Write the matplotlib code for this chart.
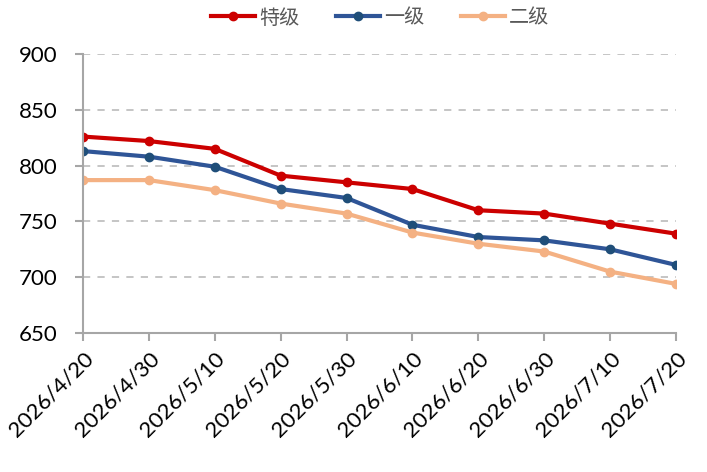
import matplotlib
matplotlib.use("Agg")
import matplotlib.pyplot as plt

dates = ['2026/4/20', '2026/4/30', '2026/5/10', '2026/5/20', '2026/5/30',
         '2026/6/10', '2026/6/20', '2026/6/30', '2026/7/10', '2026/7/20']
special = [826, 822, 815, 791, 785, 779, 760, 757, 748, 739]
grade1 = [813, 808, 799, 779, 771, 747, 736, 733, 725, 711]
grade2 = [787, 787, 778, 766, 757, 740, 730, 723, 705, 694]
names = ['特级', '一级', '二级']

plt.rcParams['font.family'] = ['Lato', 'Noto Sans CJK SC', 'DejaVu Sans']

fig = plt.figure(figsize=(7.07, 4.72), dpi=100)
ax = fig.add_axes([83 / 707, 1 - 333 / 472, (676 - 83) / 707, (333 - 54) / 472])

x = list(range(len(dates)))
ax.plot(x, special, color='#CC0000', lw=3, marker='o', ms=6, label=names[0])
ax.plot(x, grade1, color='#2F5597', lw=3, marker='o', ms=6,
        mfc='#1F4E79', mec='#1F4E79', label=names[1])
ax.plot(x, grade2, color='#F4B183', lw=3, marker='o', ms=6, label=names[2])

ax.set_xlim(0, len(dates) - 1)
ax.set_ylim(650, 900)
ax.set_yticks(range(650, 901, 50))
ax.set_xticks(x)
ax.set_xticklabels(dates, rotation=45, ha='right', rotation_mode='anchor')
ax.tick_params(axis='both', labelsize=16, color='#A6A6A6', width=1.5, length=6)
ax.tick_params(axis='y', pad=12)
ax.tick_params(axis='x', pad=5)

ax.yaxis.grid(True, ls=(0, (4, 4)), color='#C0C0C0', lw=1.3)
ax.set_axisbelow(True)
for s in ['top', 'right']:
    ax.spines[s].set_visible(False)
for s in ['left', 'bottom']:
    ax.spines[s].set_color('#A6A6A6')
    ax.spines[s].set_linewidth(1.5)

leg = fig.legend(loc='center', bbox_to_anchor=(380 / 707, 1 - 18 / 472), ncol=3,
                 frameon=False, handlelength=2.2, columnspacing=1.8,
                 handletextpad=0.2, prop={'family': ['Noto Sans CJK SC'], 'size': 14.5})
for t in leg.get_texts():
    t.set_color('#595959')

fig.savefig('out.png', dpi=100)
